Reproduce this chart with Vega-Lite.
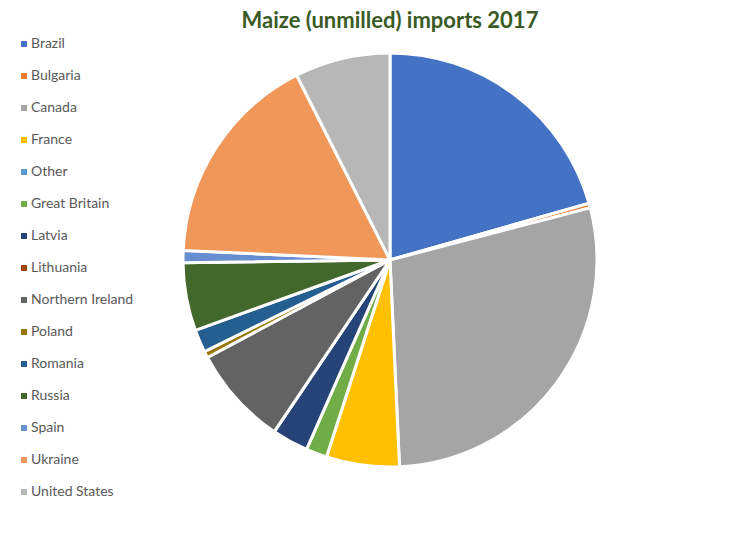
{
  "$schema": "https://vega.github.io/schema/vega-lite/v6.json",
  "autosize": "none",
  "width": 600,
  "height": 440,
  "padding": {"left": 90, "top": 40, "right": 59, "bottom": 54},
  "background": "white",
  "title": {
    "text": "Maize (unmilled) imports 2017",
    "anchor": "middle",
    "font": "Lato",
    "fontSize": 22,
    "fontWeight": "bold",
    "color": "#3A5A25",
    "offset": 4
  },
  "data": {
    "values": [
      {"country": "Brazil", "share": 20.56},
      {"country": "Bulgaria", "share": 0.36},
      {"country": "Canada", "share": 28.3},
      {"country": "France", "share": 5.69},
      {"country": "Other", "share": 0},
      {"country": "Great Britain", "share": 1.64},
      {"country": "Latvia", "share": 2.83},
      {"country": "Lithuania", "share": 0},
      {"country": "Northern Ireland", "share": 7.75},
      {"country": "Poland", "share": 0.5},
      {"country": "Romania", "share": 1.78},
      {"country": "Russia", "share": 5.31},
      {"country": "Spain", "share": 0.94},
      {"country": "Ukraine", "share": 16.8},
      {"country": "United States", "share": 7.44}
    ]
  },
  "mark": {"type": "arc", "outerRadius": 207, "stroke": "white", "strokeWidth": 3},
  "encoding": {
    "theta": {"field": "share", "type": "quantitative", "stack": true},
    "color": {
      "field": "country",
      "type": "nominal",
      "sort": ["Brazil", "Bulgaria", "Canada", "France", "Other", "Great Britain", "Latvia", "Lithuania", "Northern Ireland", "Poland", "Romania", "Russia", "Spain", "Ukraine", "United States"],
      "scale": {
        "domain": ["Brazil", "Bulgaria", "Canada", "France", "Other", "Great Britain", "Latvia", "Lithuania", "Northern Ireland", "Poland", "Romania", "Russia", "Spain", "Ukraine", "United States"],
        "range": ["#4472C4", "#ED7D31", "#A5A5A5", "#FFC000", "#5B9BD5", "#70AD47", "#264478", "#9E480E", "#636363", "#997300", "#255E91", "#43682B", "#698ED0", "#F1975A", "#B7B7B7"]
      },
      "legend": {
        "title": null,
        "orient": "none",
        "legendX": -73,
        "legendY": -3,
        "symbolType": "square",
        "symbolSize": 36,
        "symbolStrokeWidth": 0,
        "labelFont": "Lato",
        "labelFontSize": 14,
        "labelColor": "#595959",
        "labelOffset": 0,
        "rowPadding": 18,
        "labelLimit": 200
      }
    },
    "order": {"field": "country", "sort": "ascending"}
  }
}
